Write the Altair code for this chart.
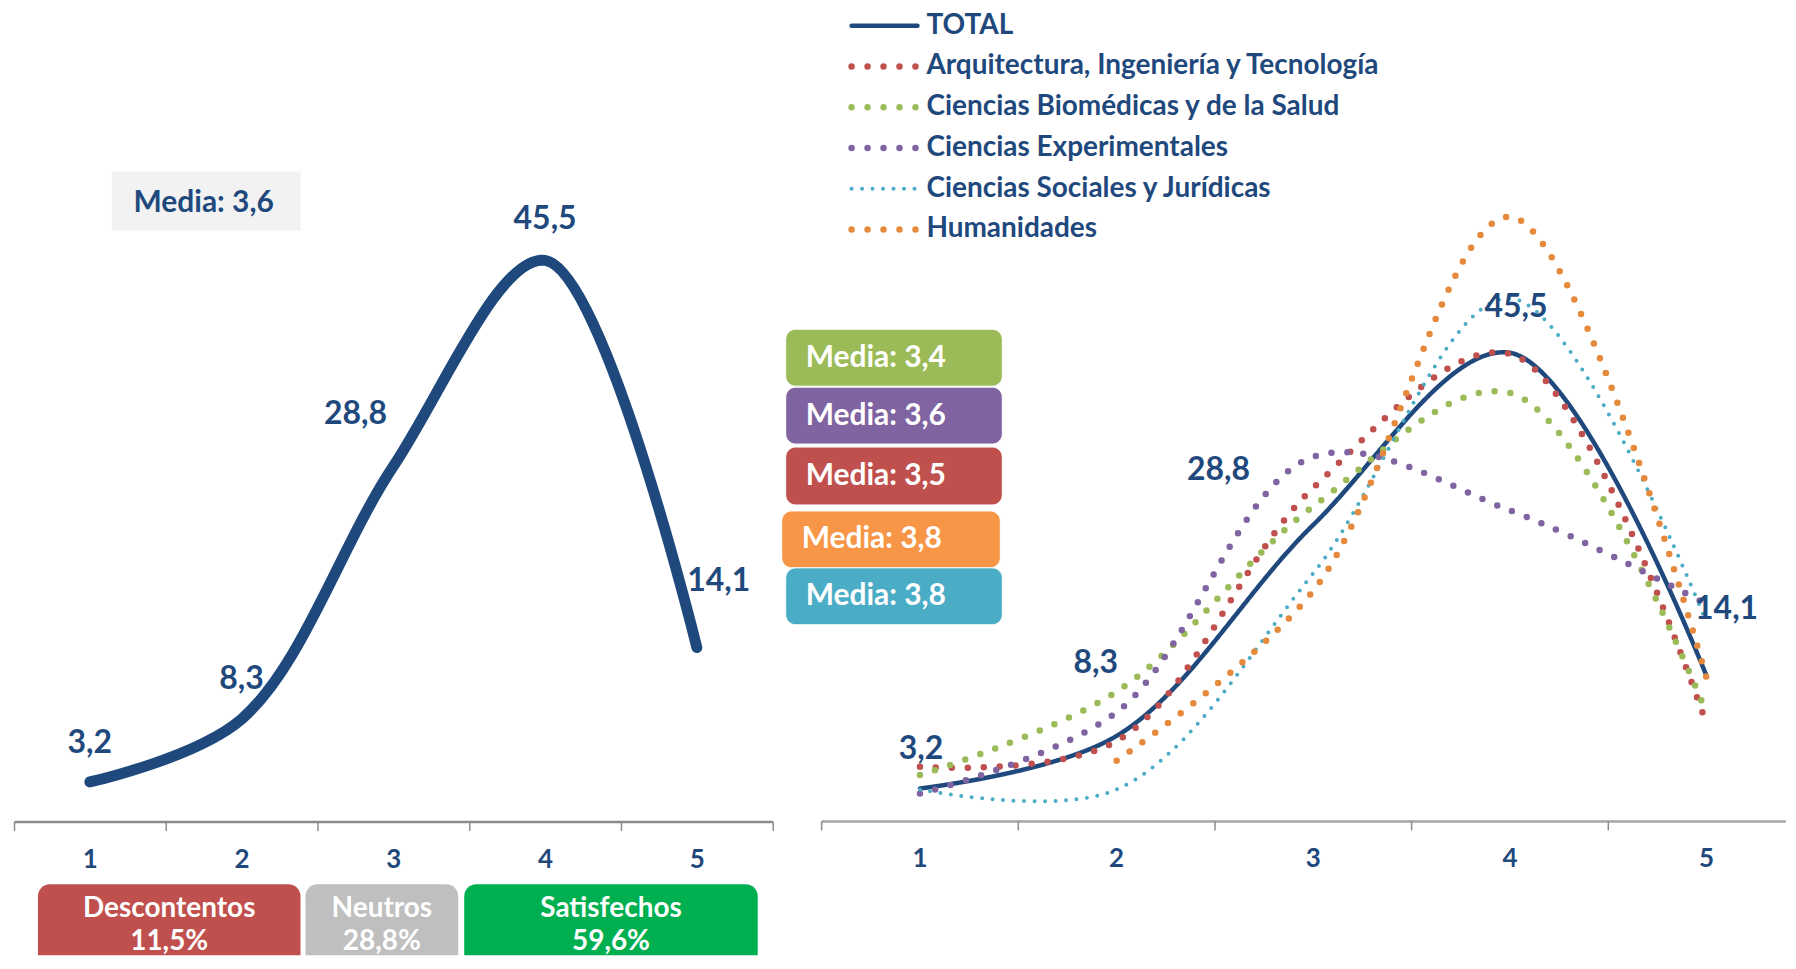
import altair as alt
import pandas as pd

# ---------------- data ----------------
CATS = ["1", "2", "3", "4", "5"]
SERIES = [
    "TOTAL",
    "Arquitectura, Ingeniería y Tecnología",
    "Ciencias Biomédicas y de la Salud",
    "Ciencias Experimentales",
    "Ciencias Sociales y Jurídicas",
    "Humanidades",
]
TOTAL = [3.2, 8.3, 28.8, 45.5, 14.1]
ARQ = [5.3, 7.8, 32.4, 45.4, 9.4]
BIO = [4.5, 12.6, 30.6, 41.6, 10.5]
EXP = [2.7, 10.6, 35.4, 30.2, 21.1]
SOC = [3.1, 3.1, 24.1, 50.8, 19.3]
HUM = [None, 5.9, 22.4, 58.7, 13.9]

MEDIA_TOTAL = "Media: 3,6"
MEDIA_LABELS = ["Media: 3,4", "Media: 3,6", "Media: 3,5", "Media: 3,8", "Media: 3,8"]
GROUPS = ["Descontentos", "Neutros", "Satisfechos"]
GROUP_PCT = ["11,5%", "28,8%", "59,6%"]

# ---------------- style ----------------
FONT = "Lato"
NAVY = "#1F497D"
SERIES_COLORS = ["#1F497D", "#C0504D", "#9BBB59", "#8064A2", "#4BACC6", "#E58A3C"]
SERIES_DASH = [[1, 0], [0, 16], [0, 16], [0, 16], [0, 10.5], [0, 16]]
WIDTH_EXPR = ("datum.serie == 'TOTAL' ? 4.5 : "
              "(datum.serie == 'Ciencias Sociales y Jurídicas' ? 4 : 6.5)")
MEDIA_COLORS = ["#9BBB59", "#8064A2", "#C0504D", "#F79646", "#4BACC6"]
GROUP_COLORS = ["#C0504D", "#BFBFBF", "#00B050"]

H = 814
WL = 760
WR = 966


def fmt(v):
    return f"{v:.1f}".replace(".", ",")


one = pd.DataFrame({"a": [0]})

# ---------------- left panel ----------------
left_df = pd.DataFrame({"cat": CATS, "val": TOTAL, "lab": [fmt(v) for v in TOTAL]})

xL = alt.X(
    "cat:N", sort=CATS, bandPosition=0.5,
    scale=alt.Scale(type="band", domain=CATS, paddingInner=0, paddingOuter=0),
    axis=alt.Axis(tickBand="extent", domainColor="#8C8C8C", domainWidth=2.5,
                  tickColor="#8C8C8C", tickWidth=1.5, tickSize=9, labelPadding=29,
                  labelBaseline="middle", title=None, labelAngle=0, labelFont=FONT,
                  labelFontSize=26, labelFontWeight="bold", labelColor=NAVY),
)
yL = alt.Y("val:Q", scale=alt.Scale(domain=[0, 65.9], nice=False), axis=None)

left_line = alt.Chart(left_df).mark_line(
    interpolate="catmull-rom", strokeWidth=11, strokeCap="round", strokeJoin="round", color=NAVY
).encode(x=xL, y=yL)

L_OFF = {"1": (0, -39), "2": (0, -40), "3": (-38, -52), "4": (0, -41), "5": (22, -67)}
left_labels = [
    alt.Chart(left_df).transform_filter(alt.datum.cat == c).mark_text(
        dx=L_OFF[c][0], dy=L_OFF[c][1], font=FONT, fontSize=32, fontWeight="bold",
        color=NAVY, baseline="middle", align="center"
    ).encode(x=xL, y=yL, text="lab:N")
    for c in CATS
]

media_box = alt.Chart(one).mark_rect(color="#F2F2F2").encode(
    x=alt.value(98), x2=alt.value(287), y=alt.value(163), y2=alt.value(222)
)
media_txt = alt.Chart(one).mark_text(
    font=FONT, fontSize=30, fontWeight="bold", color=NAVY, align="center", baseline="middle"
).encode(x=alt.value(190), y=alt.value(195), text=alt.value(MEDIA_TOTAL))

GROUP_X = [(24, 287), (292, 445), (451, 745)]
group_layers = []
for g, p, col, (x1, x2) in zip(GROUPS, GROUP_PCT, GROUP_COLORS, GROUP_X):
    group_layers.append(
        alt.Chart(one).mark_rect(color=col, cornerRadiusTopLeft=12, cornerRadiusTopRight=12).encode(
            x=alt.value(x1), x2=alt.value(x2), y=alt.value(877), y2=alt.value(948)
        )
    )
    for txt, yy in [(g, 902), (p, 935)]:
        group_layers.append(
            alt.Chart(one).mark_text(
                font=FONT, fontSize=28, fontWeight="bold", color="white",
                align="center", baseline="middle"
            ).encode(x=alt.value((x1 + x2) / 2), y=alt.value(yy), text=alt.value(txt))
        )

left = alt.layer(left_line, *left_labels, media_box, media_txt, *group_layers).properties(
    width=WL, height=H
)

# ---------------- right panel ----------------
rows = []
for s, vals in zip(SERIES, [TOTAL, ARQ, BIO, EXP, SOC, HUM]):
    for c, v in zip(CATS, vals):
        if v is not None:
            rows.append({"serie": s, "cat": c, "val": v})
right_df = pd.DataFrame(rows)
tot_df = pd.DataFrame({"cat": CATS, "val": TOTAL, "lab": [fmt(v) for v in TOTAL]})
cat_df = pd.DataFrame({"cat": CATS})
ser_df = pd.DataFrame({"serie": SERIES})

xscale_R = alt.Scale(type="band", domain=CATS, range=[0, 985], paddingInner=0, paddingOuter=0)
xR = alt.X("cat:N", sort=CATS, bandPosition=0.5, scale=xscale_R, axis=None)
yR = alt.Y("val:Q", scale=alt.Scale(domain=[0, 78.9], nice=False), axis=None)

color_enc = alt.Color("serie:N", sort=SERIES, scale=alt.Scale(domain=SERIES, range=SERIES_COLORS), legend=None)
dash_enc = alt.StrokeDash("serie:N", sort=SERIES, scale=alt.Scale(domain=SERIES, range=SERIES_DASH), legend=None)
width_enc = alt.StrokeWidth("sw:Q", scale=None, legend=None)

lines = alt.Chart(right_df).transform_calculate(sw=WIDTH_EXPR).mark_line(
    interpolate="catmull-rom", strokeCap="round", strokeJoin="round"
).encode(x=xR, y=yR, color=color_enc, strokeDash=dash_enc, strokeWidth=width_enc)

# legend drawn from the series list through a point scale
yLeg = alt.Y("serie:N", sort=SERIES, scale=alt.Scale(type="point", domain=SERIES, range=[17, 221], padding=0), axis=None)
leg_sym = alt.Chart(ser_df).transform_calculate(sw=WIDTH_EXPR).mark_rule(strokeCap="round").encode(
    x=alt.value(30), x2=alt.value(96), y=yLeg,
    color=color_enc, strokeDash=dash_enc, strokeWidth=width_enc,
)
leg_txt = alt.Chart(ser_df).mark_text(
    font=FONT, fontSize=28, fontWeight="bold", color=NAVY, align="left", baseline="middle"
).encode(x=alt.value(105), y=yLeg, text="serie:N")

# x axis of the right panel: baseline, boundary ticks and category labels
baseline = alt.Chart(one).mark_rule(color="#A6A6A6", strokeWidth=2.5).encode(
    x=alt.value(0), x2=alt.value(WR), y=alt.value(H)
)
ticks = alt.Chart(cat_df).mark_rule(color="#8C8C8C", strokeWidth=1.5).encode(
    x=alt.X("cat:N", sort=CATS, bandPosition=0, scale=xscale_R, axis=None),
    y=alt.value(H), y2=alt.value(H + 9),
)
tick_labels = alt.Chart(cat_df).mark_text(
    font=FONT, fontSize=26, fontWeight="bold", color=NAVY, align="center", baseline="middle"
).encode(x=xR, y=alt.value(H + 38), text="cat:N")

R_OFF = {"1": (1, -40), "2": (-21, -73), "3": (-95, -55), "4": (6, -46), "5": (20, -67)}
right_labels = [
    alt.Chart(tot_df).transform_filter(alt.datum.cat == c).mark_text(
        dx=R_OFF[c][0], dy=R_OFF[c][1], font=FONT, fontSize=32, fontWeight="bold",
        color=NAVY, baseline="middle", align="center"
    ).encode(x=xR, y=yR, text="lab:N")
    for c in CATS
]

BOX_POS = [(-36, 181, 321, 378), (-36, 181, 379, 436), (-36, 181, 439, 497),
           (-40, 179, 503, 560), (-36, 181, 560, 617)]
box_layers = []
for lab, col, (x1, x2, y1, y2) in zip(MEDIA_LABELS, MEDIA_COLORS, BOX_POS):
    box_layers.append(
        alt.Chart(one).mark_rect(color=col, cornerRadius=10, stroke="white", strokeWidth=1).encode(
            x=alt.value(x1), x2=alt.value(x2), y=alt.value(y1), y2=alt.value(y2)
        )
    )
    box_layers.append(
        alt.Chart(one).mark_text(
            font=FONT, fontSize=30, fontWeight="bold", color="white", align="left", baseline="middle"
        ).encode(x=alt.value(x1 + 20), y=alt.value((y1 + y2) / 2), text=alt.value(lab))
    )

right = alt.layer(
    baseline, ticks, tick_labels, lines, *right_labels, leg_sym, leg_txt, *box_layers
).resolve_scale(y="independent").properties(width=WR, height=H)

chart = alt.hconcat(left, right, spacing=49, bounds="flush").resolve_scale(
    x="independent", y="independent", color="independent", strokeDash="independent",
).properties(
    padding={"left": 5, "top": 0, "right": 0, "bottom": 0},
    background="white",
).configure_view(strokeWidth=0)

chart.save("out.html", embed_options={"renderer": "svg", "actions": False})
